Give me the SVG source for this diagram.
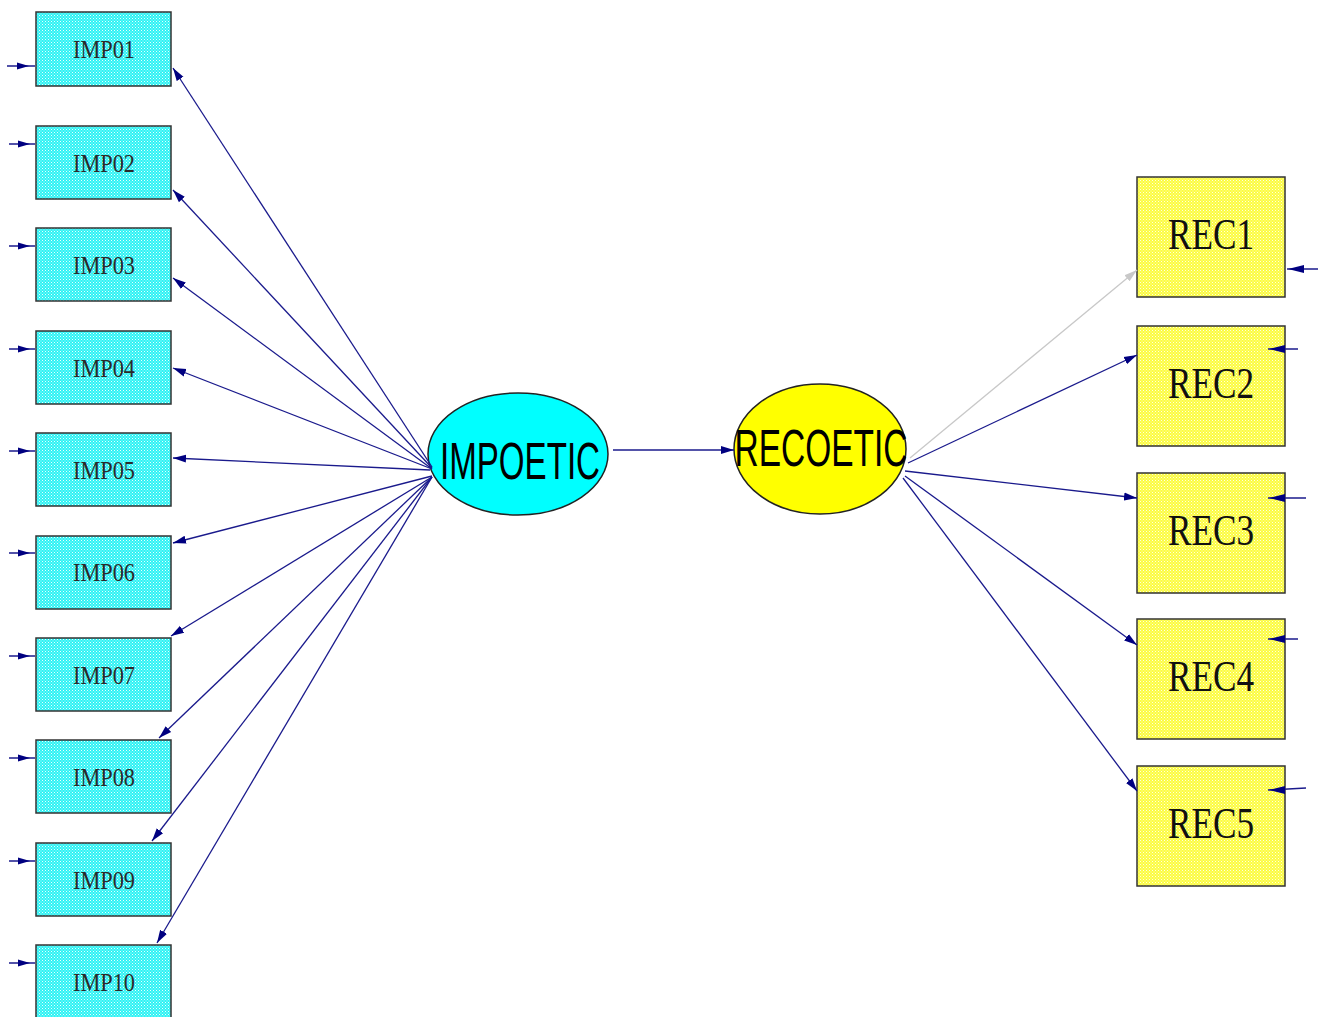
<svg xmlns="http://www.w3.org/2000/svg" width="1327" height="1017" viewBox="0 0 1327 1017">
<defs>
<pattern id="pc" width="3" height="3" patternUnits="userSpaceOnUse"><rect width="3" height="3" fill="#2ef2f4"/><rect width="1" height="1" fill="#e8ffff"/><rect x="1.5" y="1.5" width="1" height="1" fill="#c0ffff"/></pattern>
<pattern id="py" width="3" height="3" patternUnits="userSpaceOnUse"><rect width="3" height="3" fill="#fcfc40"/><rect width="1" height="1" fill="#ffffe0"/><rect x="1.5" y="1.5" width="1" height="1" fill="#ffffc0"/></pattern>
<marker id="ah" markerUnits="userSpaceOnUse" markerWidth="14" markerHeight="10" refX="13" refY="5" orient="auto"><path d="M0,1 L13,5 L0,9 Z" fill="#000080"/></marker>
<marker id="ahg" markerUnits="userSpaceOnUse" markerWidth="14" markerHeight="10" refX="13" refY="5" orient="auto"><path d="M0,1 L13,5 L0,9 Z" fill="#c8c8c8"/></marker>
<style>
.imp rect{fill:url(#pc);stroke:#333;stroke-width:1.5}
.rec rect{fill:url(#py);stroke:#333;stroke-width:1.5}
.imp text{font-family:"Liberation Serif",serif;font-size:25px;fill:#2a2a2a;text-anchor:middle}
.rec text{font-family:"Liberation Serif",serif;font-size:44px;fill:#111;text-anchor:middle}
.lat text{font-family:"Liberation Sans",Arial,sans-serif;font-size:52px;fill:#000;text-anchor:middle}
.c line{stroke:#1a1a8c;stroke-width:1.3;marker-end:url(#ah)}
.c line.g{stroke:#c8c8c8;marker-end:url(#ahg)}
.e line{stroke:#1a1a8c;stroke-width:1.5}
.e path{fill:#000080}
</style>
</defs>
<rect width="1327" height="1017" fill="#fff"/>

<g id="IMP01" class="imp"><rect x="36" y="12" width="135" height="74"/><text x="104" y="58" textLength="62" lengthAdjust="spacingAndGlyphs">IMP01</text></g>
<g id="IMP02" class="imp"><rect x="36" y="126" width="135" height="73"/><text x="104" y="172" textLength="62" lengthAdjust="spacingAndGlyphs">IMP02</text></g>
<g id="IMP03" class="imp"><rect x="36" y="228" width="135" height="73"/><text x="104" y="274" textLength="62" lengthAdjust="spacingAndGlyphs">IMP03</text></g>
<g id="IMP04" class="imp"><rect x="36" y="331" width="135" height="73"/><text x="104" y="377" textLength="62" lengthAdjust="spacingAndGlyphs">IMP04</text></g>
<g id="IMP05" class="imp"><rect x="36" y="433" width="135" height="73"/><text x="104" y="479" textLength="62" lengthAdjust="spacingAndGlyphs">IMP05</text></g>
<g id="IMP06" class="imp"><rect x="36" y="536" width="135" height="73"/><text x="104" y="581" textLength="62" lengthAdjust="spacingAndGlyphs">IMP06</text></g>
<g id="IMP07" class="imp"><rect x="36" y="638" width="135" height="73"/><text x="104" y="684" textLength="62" lengthAdjust="spacingAndGlyphs">IMP07</text></g>
<g id="IMP08" class="imp"><rect x="36" y="740" width="135" height="73"/><text x="104" y="786" textLength="62" lengthAdjust="spacingAndGlyphs">IMP08</text></g>
<g id="IMP09" class="imp"><rect x="36" y="843" width="135" height="73"/><text x="104" y="889" textLength="62" lengthAdjust="spacingAndGlyphs">IMP09</text></g>
<g id="IMP10" class="imp"><rect x="36" y="945" width="135" height="80"/><text x="104" y="991" textLength="62" lengthAdjust="spacingAndGlyphs">IMP10</text></g>

<g id="REC1" class="rec"><rect x="1137" y="177" width="148" height="120"/><text x="1211" y="249" textLength="86" lengthAdjust="spacingAndGlyphs">REC1</text></g>
<g id="REC2" class="rec"><rect x="1137" y="326" width="148" height="120"/><text x="1211" y="398" textLength="86" lengthAdjust="spacingAndGlyphs">REC2</text></g>
<g id="REC3" class="rec"><rect x="1137" y="473" width="148" height="120"/><text x="1211" y="545" textLength="86" lengthAdjust="spacingAndGlyphs">REC3</text></g>
<g id="REC4" class="rec"><rect x="1137" y="619" width="148" height="120"/><text x="1211" y="691" textLength="86" lengthAdjust="spacingAndGlyphs">REC4</text></g>
<g id="REC5" class="rec"><rect x="1137" y="766" width="148" height="120"/><text x="1211" y="838" textLength="86" lengthAdjust="spacingAndGlyphs">REC5</text></g>

<g id="IMPOETIC" class="lat"><ellipse cx="518" cy="454" rx="90" ry="61" fill="#00ffff" stroke="#222" stroke-width="1.5"/><text x="520" y="479" textLength="160" lengthAdjust="spacingAndGlyphs">IMPOETIC</text></g>
<g id="RECOETIC" class="lat"><ellipse cx="820" cy="449" rx="86" ry="65" fill="#ffff00" stroke="#222" stroke-width="1.5"/><text x="821" y="466" textLength="173" lengthAdjust="spacingAndGlyphs">RECOETIC</text></g>

<g id="connectors" class="c">
<line x1="432" y1="467" x2="173" y2="68"/>
<line x1="432" y1="468" x2="173" y2="190"/>
<line x1="432" y1="469" x2="173" y2="278"/>
<line x1="432" y1="469" x2="173" y2="368"/>
<line x1="430" y1="470" x2="173" y2="458"/>
<line x1="432" y1="476" x2="173" y2="543"/>
<line x1="432" y1="477" x2="171" y2="636"/>
<line x1="432" y1="477" x2="159" y2="738"/>
<line x1="432" y1="477" x2="152" y2="841"/>
<line x1="432" y1="477" x2="157" y2="943"/>
<line x1="613" y1="450" x2="734" y2="450"/>
<line class="g" x1="910" y1="458" x2="1137" y2="270"/>
<line x1="908" y1="463" x2="1137" y2="355"/>
<line x1="905" y1="471" x2="1137" y2="498"/>
<line x1="905" y1="476" x2="1137" y2="645"/>
<line x1="903" y1="478" x2="1137" y2="791"/>
</g>

<g id="errors" class="e">
<line x1="7" y1="66" x2="35" y2="66"/><path d="M17,62.5 L29,66 L17,69.5 Z"/>
<line x1="9" y1="144" x2="35" y2="144"/><path d="M18,140.5 L30,144 L18,147.5 Z"/>
<line x1="9" y1="246" x2="35" y2="246"/><path d="M18,242.5 L30,246 L18,249.5 Z"/>
<line x1="9" y1="349" x2="35" y2="349"/><path d="M18,345.5 L30,349 L18,352.5 Z"/>
<line x1="9" y1="451" x2="35" y2="451"/><path d="M18,447.5 L30,451 L18,454.5 Z"/>
<line x1="9" y1="553" x2="35" y2="553"/><path d="M18,549.5 L30,553 L18,556.5 Z"/>
<line x1="9" y1="656" x2="35" y2="656"/><path d="M18,652.5 L30,656 L18,659.5 Z"/>
<line x1="9" y1="758" x2="35" y2="758"/><path d="M18,754.5 L30,758 L18,761.5 Z"/>
<line x1="9" y1="861" x2="35" y2="861"/><path d="M18,857.5 L30,861 L18,864.5 Z"/>
<line x1="9" y1="963" x2="35" y2="963"/><path d="M18,959.5 L30,963 L18,966.5 Z"/>
<line x1="1318" y1="269" x2="1287" y2="269"/><path d="M1304,265 L1288,269 L1304,273 Z"/>
<line x1="1298" y1="349" x2="1268" y2="349"/><path d="M1285,345 L1269,349 L1285,353 Z"/>
<line x1="1306" y1="498" x2="1268" y2="498"/><path d="M1285,494 L1269,498 L1285,502 Z"/>
<line x1="1298" y1="639" x2="1268" y2="639"/><path d="M1285,635 L1269,639 L1285,643 Z"/>
<line x1="1306" y1="788" x2="1268" y2="790"/><path d="M1285,786 L1269,790 L1285,794 Z"/>
</g>
</svg>
